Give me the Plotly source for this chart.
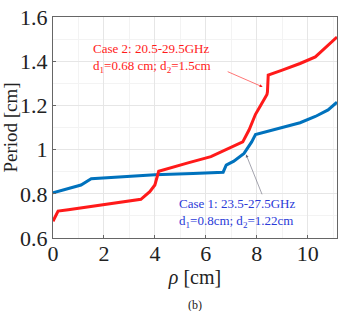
import plotly.graph_objects as go

# Case 2 (red)
x_case2 = [0.0, 0.2, 0.6, 1.5, 2.5, 3.45, 3.8, 4.0, 4.15, 4.6, 5.3, 6.2, 6.6, 7.45, 7.7, 7.95, 8.1, 8.4, 8.42, 8.45, 9.0, 9.7, 10.3, 11.15]
y_case2 = [0.676, 0.722, 0.728, 0.742, 0.758, 0.775, 0.81, 0.84, 0.902, 0.918, 0.94, 0.968, 0.99, 1.035, 1.09, 1.16, 1.19, 1.25, 1.262, 1.338, 1.36, 1.39, 1.42, 1.51]

# Case 1 (blue)
x_case1 = [0.0, 0.5, 1.1, 1.5, 2.5, 4.0, 5.5, 6.68, 6.8, 7.1, 7.5, 7.8, 7.95, 8.4, 9.0, 9.7, 10.3, 10.8, 11.15]
y_case1 = [0.805, 0.82, 0.84, 0.868, 0.875, 0.886, 0.892, 0.898, 0.93, 0.948, 0.983, 1.035, 1.068, 1.082, 1.1, 1.122, 1.15, 1.18, 1.215]

x_ticks = [0, 2, 4, 6, 8, 10]
y_ticks = [0.6, 0.8, 1.0, 1.2, 1.4, 1.6]
y_tick_text = ["0.6", "0.8", "1", "1.2", "1.4", "1.6"]

RED = "#ff1a1a"
BLUE = "#0072BD"
TXT_BLUE = "#2a3ad8"
FONT = "Liberation Serif"

fig = go.Figure()
fig.add_trace(go.Scatter(x=x_case1, y=y_case1, mode="lines",
                         line=dict(color=BLUE, width=3), showlegend=False))
fig.add_trace(go.Scatter(x=x_case2, y=y_case2, mode="lines",
                         line=dict(color=RED, width=3), showlegend=False))

axis_common = dict(showline=True, linecolor="#666", linewidth=1, mirror=True,
                   showgrid=True, gridcolor="#e6e6e6", gridwidth=1,
                   ticks="inside", ticklen=3, tickcolor="#666",
                   zeroline=False, ticklabeloverflow="allow",
                   tickfont=dict(family=FONT, size=22, color="#222"))

fig.update_xaxes(range=[0, 11.15], tickvals=x_ticks, **axis_common,
                 ticklabelstandoff=-4,
                 minor=dict(showgrid=True, gridcolor="#f3f3f3", dtick=1),
                 title=dict(text="<i>ρ</i> [cm]", font=dict(family=FONT, size=20, color="#222"), standoff=2))
fig.update_yaxes(range=[0.6, 1.6005], tickvals=y_ticks, ticktext=y_tick_text, **axis_common,
                 minor=dict(showgrid=True, gridcolor="#f3f3f3", dtick=0.1),
                 title=dict(text="Period [cm]", font=dict(family=FONT, size=19, color="#222"), standoff=2))

# arrows
fig.add_annotation(x=8.23, y=1.284, xref="x", yref="y",
                   ax=6.8, ay=1.356, axref="x", ayref="y",
                   showarrow=True, arrowhead=2, arrowsize=1, arrowwidth=0.6,
                   arrowcolor=RED, text="")
fig.add_annotation(x=7.58, y=0.978, xref="x", yref="y",
                   ax=8.23, ay=0.791, axref="x", ayref="y",
                   showarrow=True, arrowhead=2, arrowsize=1, arrowwidth=0.6,
                   arrowcolor="#667", text="")

fig.add_annotation(x=3.9, y=1.417, xref="x", yref="y", showarrow=False,
                   text="Case 2: 20.5-29.5GHz<br>d<sub>1</sub>=0.68 cm; d<sub>2</sub>=1.5cm",
                   align="left", font=dict(family=FONT, size=13, color=RED))
fig.add_annotation(x=7.22, y=0.711, xref="x", yref="y", showarrow=False,
                   text="Case 1: 23.5-27.5GHz<br>d<sub>1</sub>=0.8cm; d<sub>2</sub>=1.22cm",
                   align="left", font=dict(family=FONT, size=13, color=TXT_BLUE))

fig.add_annotation(x=0.5, y=0, xref="paper", yref="paper", yshift=-67,
                   yanchor="middle", showarrow=False, text="(b)",
                   font=dict(family=FONT, size=12, color="#222"))

fig.update_layout(width=343, height=311,
                  margin=dict(l=48, r=5, t=12, b=73),
                  plot_bgcolor="white", paper_bgcolor="white")

fig.write_html("out.html")
